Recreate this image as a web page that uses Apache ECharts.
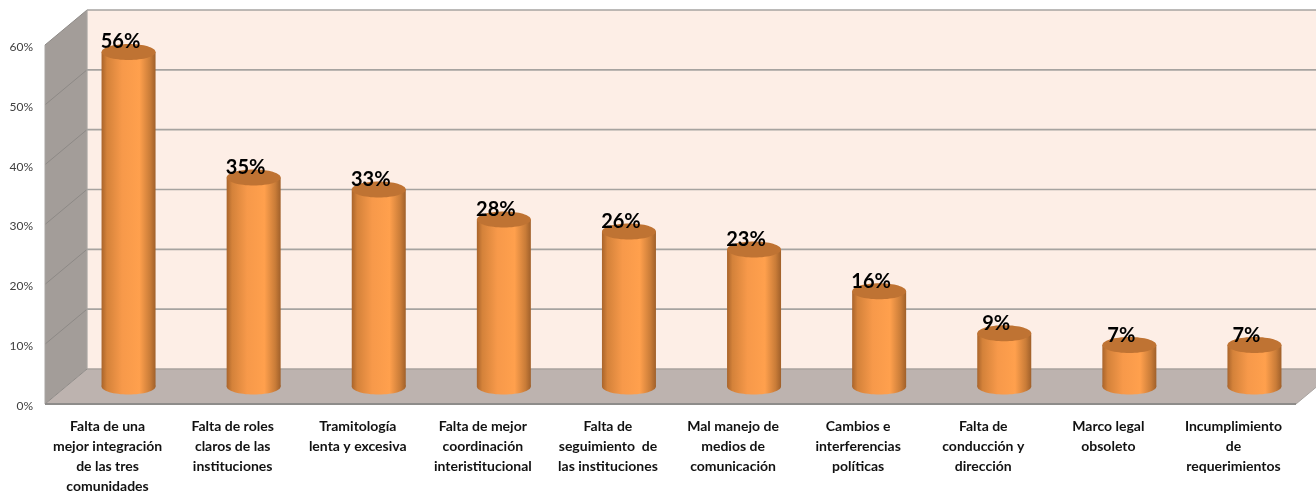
<!DOCTYPE html>
<html>
<head>
<meta charset="utf-8">
<title>Grafico</title>
<style>
html,body{margin:0;padding:0;background:#fff;}
#main{width:1316px;height:491px;}
</style>
<script src="https://cdn.jsdelivr.net/npm/echarts@6/dist/echarts.min.js"></script>
</head>
<body>
<div id="main"></div>
<script>
// datos
var categories = [
    'Falta de una\nmejor integración\nde las tres\ncomunidades',
    'Falta de roles\nclaros de las\ninstituciones',
    'Tramitología\nlenta y excesiva',
    'Falta de mejor\ncoordinación\ninteristitucional',
    'Falta de\nseguimiento  de\nlas instituciones',
    'Mal manejo de\nmedios de\ncomunicación',
    'Cambios e\ninterferencias\npolíticas',
    'Falta de\nconducción y\ndirección',
    'Marco legal\nobsoleto',
    'Incumplimiento\nde\nrequerimientos'
];
var values = [56, 35, 33, 28, 26, 23, 16, 9, 7, 7];
var yTicks = [0, 10, 20, 30, 40, 50, 60];

// profundidad de la caja 3D
var depthX = 42, depthY = 35;
var fontName = 'Lato, "Open Sans", sans-serif';

var myChart = echarts.init(document.getElementById('main'));

// paredes, piso y lineas de la cuadricula
function renderBox(params, api) {
    var rect = params.coordSys;
    var x0 = rect.x, x1 = rect.x + rect.width;
    var top = rect.y, bottom = rect.y + rect.height;
    var kids = [
        {type: 'polygon', shape: {points: [[x0 + depthX, top - depthY], [x1 + depthX, top - depthY], [x1 + depthX, bottom - depthY], [x0 + depthX, bottom - depthY]]},
            style: {fill: '#fdeee6'}},
        {type: 'polygon', shape: {points: [[x0, top], [x0 + depthX, top - depthY], [x0 + depthX, bottom - depthY], [x0, bottom]]},
            style: {fill: '#a39d99'}},
        {type: 'polygon', shape: {points: [[x0, bottom], [x0 + depthX, bottom - depthY], [x1 + depthX, bottom - depthY], [x1, bottom]]},
            style: {fill: '#bdb3af'}}
    ];
    yTicks.forEach(function (t) {
        var y = api.coord([0, t])[1];
        kids.push({type: 'line', shape: {x1: x0, y1: y, x2: x0 + depthX, y2: y - depthY},
            style: {stroke: '#8d8986', lineWidth: 1}});
        if (t > 0) {
            kids.push({type: 'line', shape: {x1: x0 + depthX, y1: y - depthY, x2: x1 + depthX, y2: y - depthY},
                style: {stroke: '#a6a3a0', lineWidth: 1.6}});
        }
    });
    kids.push({type: 'line', shape: {x1: x0 + depthX, y1: bottom - depthY, x2: x1 + depthX, y2: bottom - depthY},
        style: {stroke: '#a8a29e', lineWidth: 1.5}});
    kids.push({type: 'line', shape: {x1: x0 + depthX, y1: top - depthY, x2: x0 + depthX, y2: bottom - depthY},
        style: {stroke: '#a8a5a2', lineWidth: 1.2}});
    kids.push({type: 'line', shape: {x1: x0, y1: top, x2: x0, y2: bottom},
        style: {stroke: '#a8a5a2', lineWidth: 1}});
    kids.push({type: 'line', shape: {x1: x0, y1: bottom, x2: x1, y2: bottom},
        style: {stroke: '#8e8c8a', lineWidth: 2}});
    kids.push({type: 'line', shape: {x1: x1, y1: bottom, x2: x1 + depthX, y2: bottom - depthY},
        style: {stroke: '#a8a29e', lineWidth: 1}});
    return {type: 'group', children: kids};
}

// cilindro de cada barra, centrado a media profundidad
function renderCylinder(params, api) {
    var i = api.value(0), v = api.value(1);
    var base = api.coord([i, 0]);
    var head = api.coord([i, v]);
    var cx = base[0] + depthX / 2;
    var yb = base[1] - depthY / 2;
    var yt = head[1] - depthY / 2 + 0.5;
    var rx = 27, ry = 8;
    var body = new echarts.graphic.LinearGradient(0, 0, 1, 0, [
        {offset: 0, color: '#a9642b'},
        {offset: 0.1, color: '#d4823a'},
        {offset: 0.38, color: '#f7994a'},
        {offset: 0.7, color: '#ffa04d'},
        {offset: 0.9, color: '#c97c38'},
        {offset: 1, color: '#a0602a'}
    ]);
    return {
        type: 'group',
        children: [
            {type: 'ellipse', shape: {cx: cx, cy: yb, rx: rx, ry: ry}, style: {fill: body}},
            {type: 'rect', shape: {x: cx - rx, y: yt, width: rx * 2, height: yb - yt}, style: {fill: body}},
            {type: 'ellipse', shape: {cx: cx, cy: yt, rx: rx, ry: ry}, style: {fill: '#bf7333'}},
            {type: 'text', style: {x: cx - 8, y: yt - 10, text: v + '%', fill: '#000', align: 'center', verticalAlign: 'middle',
                font: 'bold 20px ' + fontName}}
        ]
    };
}

var option = {
    animation: false,
    grid: {left: 45, right: 20, top: 45, bottom: 87, outerBoundsMode: 'none'},
    xAxis: {
        type: 'category',
        data: categories,
        axisLine: {show: false},
        axisTick: {show: false},
        axisLabel: {
            interval: 0,
            margin: 12,
            lineHeight: 20,
            color: '#111',
            fontFamily: fontName,
            fontWeight: 'bold',
            fontSize: 14
        }
    },
    yAxis: {
        type: 'value',
        min: 0,
        max: 60,
        interval: 10,
        splitLine: {show: false},
        axisLine: {show: false},
        axisTick: {show: false},
        axisLabel: {
            margin: 12,
            formatter: '{t|{value}%}',
            rich: {
                t: {padding: [4, 0, 0, 0], color: '#404040', fontFamily: fontName, fontSize: 12}
            }
        }
    },
    series: [
        {type: 'custom', data: [[0, 0]], renderItem: renderBox, silent: true, z: 1},
        {
            type: 'custom',
            name: 'Porcentaje',
            data: values.map(function (v, i) { return [i, v]; }),
            encode: {x: 0, y: 1},
            renderItem: renderCylinder,
            z: 2
        }
    ]
};
myChart.setOption(option);
</script>
</body>
</html>
